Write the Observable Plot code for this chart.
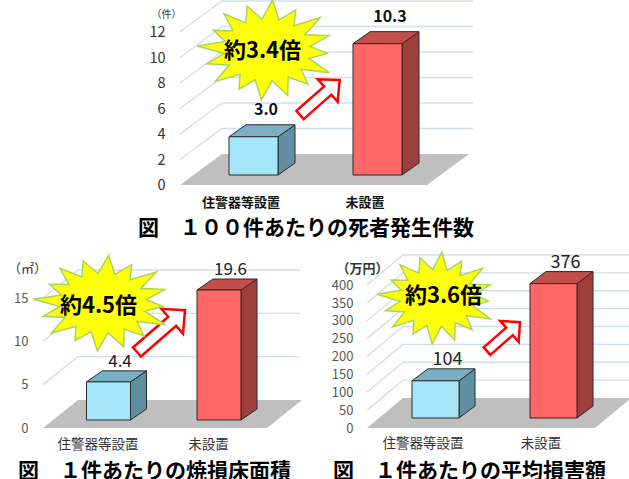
<!DOCTYPE html>
<html><head><meta charset="utf-8">
<script src="https://cdn.jsdelivr.net/npm/d3@7"></script>
<script src="https://cdn.jsdelivr.net/npm/@observablehq/plot@0.6"></script>
<style>
body{margin:0;background:#fff;}
#wrap{position:relative;width:629px;height:479px;overflow:hidden;background:#fff;font-family:"Noto Sans CJK JP",sans-serif;}
.chart{position:absolute;}
.title{position:absolute;font-size:21px;font-weight:bold;line-height:1;white-space:nowrap;color:#000;font-family:"Noto Sans CJK JP",sans-serif;}
</style></head><body><div id="wrap"></div>
<script>
// ---- data ----
const categories = ["住警器等設置", "未設置"];
const deathsPer100 = [3.0, 10.3];
const burnedAreaPerFire = [4.4, 19.6];
const damagePerFire = [104, 376];
const ticksDeaths = [0, 2, 4, 6, 8, 10, 12];
const ticksArea = [0, 5, 10, 15];
const ticksDamage = [0, 50, 100, 150, 200, 250, 300, 350, 400];
const ratioLabels = ["約3.4倍", "約4.5倍", "約3.6倍"];
const unitLabels = ["（件）", "（㎡）", "（万円）"];
const chartTitles = ["図　１００件あたりの死者発生件数", "図　１件あたりの焼損床面積", "図　１件あたりの平均損害額"];

// ---- styles ----
const barColors = [
  {front: "#A6E6FA", top: "#7BAFC3", side: "#5F8FA0"},
  {front: "#FF6666", top: "#C24F4C", side: "#A03E3E"}
];
const spikeScale = [1, 0.9, 1, 0.93, 0.86, 1, 0.9, 0.96, 1, 0.88, 0.97, 0.9, 1, 0.86, 0.95, 0.92];

const specs = [
  { values: deathsPer100, ticks: ticksDeaths, fmt: d3.format(".1f"), ratio: ratioLabels[0], unit: unitLabels[0], title: chartTitles[0],
    box: [130, 0, 360, 214], catX: [240.5, 364.5], y0: 185, yTop: 32, tickX: 165, tickSize: 14.5, tickColor: "#333",
    floor: {x0: 180, x1: 427, dx: 42, dy: -31, gridX1: 473},
    bar: {w: 49, dx: 13, dy: -10, tdx: 17, tdy: -12},
    label: {dx: 25, dy: -37.5, size: 16, weight: "bold", color: "#111"},
    cat: {dy: 17, size: 13, weight: "bold", color: "#111"},
    unitPos: [166, 10, 10, "normal"],
    star: {x: 0.214, y: 10.59, rx: 70, ry: 50, tdx: -5, tdy: 0},
    arrow: {from: [0.48, 5.49], to: [0.80, 8.24], sw: 11, hw: 30, hl: 16},
    titlePos: [138, 226] },
  { values: burnedAreaPerFire, ticks: ticksArea, fmt: d3.format(".1f"), ratio: ratioLabels[1], unit: unitLabels[1], title: chartTitles[1],
    box: [0, 245, 310, 212], catX: [97.5, 208], y0: 428, yTop: 298, tickX: 28, tickSize: 13, tickColor: "#595959",
    floor: {x0: 43, x1: 267, dx: 35, dy: -28, gridX1: 300},
    bar: {w: 44, dx: 11, dy: -8, tdx: 16, tdy: -11},
    label: {dx: 22, dy: -29, size: 17, weight: "normal", color: "#222"},
    cat: {dy: 16, size: 13.5, weight: "normal", color: "#333"},
    unitPos: [27, 263, 13, "normal"],
    star: {x: 0.05, y: 14.42, rx: 70, ry: 48, tdx: -5, tdy: 2},
    arrow: {from: [0.357, 8.77], to: [0.792, 13.6], sw: 12, hw: 33, hl: 17},
    titlePos: [18, 469] },
  { values: damagePerFire, ticks: ticksDamage, fmt: d3.format("d"), ratio: ratioLabels[2], unit: unitLabels[2], title: chartTitles[2],
    box: [310, 245, 319, 212], catX: [422.5, 540.5], y0: 428, yTop: 285, tickX: 353, tickSize: 13, tickColor: "#595959",
    floor: {x0: 367, x1: 595, dx: 36, dy: -30, gridX1: 629},
    bar: {w: 47, dx: 13, dy: -10, tdx: 16, tdy: -12},
    label: {dx: 24.5, dy: -32, size: 18, weight: "normal", color: "#222"},
    cat: {dy: 15, size: 13.5, weight: "normal", color: "#333"},
    unitPos: [362, 263, 13, "bold"],
    star: {x: 0.123, y: 363.6, rx: 60, ry: 46, tdx: 6, tdy: -3},
    arrow: {from: [0.547, 215], to: [0.826, 296], sw: 10, hw: 28, hl: 14},
    titlePos: [333, 469] }
];

const NS = "http://www.w3.org/2000/svg";
function el(tag, attrs = {}) {
  const e = document.createElementNS(NS, tag);
  for (const k in attrs) e.setAttribute(k, attrs[k]);
  return e;
}
const pts = a => a.map(p => p[0].toFixed(2) + "," + p[1].toFixed(2)).join(" ");
function poly(points, fill, stroke = "#2b2b2b", sw = 1) {
  return el("polygon", {points: pts(points), fill, stroke, "stroke-width": sw, "stroke-linejoin": "round"});
}

function sceneMark(spec) {
  return (index, scales) => {
    const x = scales.x, y = scales.y;
    const L = spec.box[0];
    const f = spec.floor, b = spec.bar;
    const yMax = spec.ticks[spec.ticks.length - 1];
    const fx0 = f.x0 - L, fx1 = f.x1 - L, gx1 = f.gridX1 - L;
    const g = el("g");
    const y0 = y(0);
    for (const t of spec.ticks) {
      if (t === 0) continue;
      const yt = y(t);
      g.append(el("polyline", {points: pts([[fx0, yt], [fx0 + f.dx, yt + f.dy], [gx1, yt + f.dy]]),
        fill: "none", stroke: "#D3DEEC", "stroke-width": 1.4}));
    }
    g.append(poly([[fx0, y0], [fx1, y0], [fx1 + f.dx, y0 + f.dy], [fx0 + f.dx, y0 + f.dy]], "#BFBFBF", "none", 0));
    spec.values.forEach((v, i) => {
      const c = barColors[i];
      const xl = x(i) + b.dx - b.w / 2, xr = xl + b.w;
      const yb = y0 + b.dy, yt = y(Math.min(v, yMax)) + b.dy;
      g.append(poly([[xr, yt], [xr + b.tdx, yt + b.tdy], [xr + b.tdx, yb + b.tdy], [xr, yb]], c.side));
      g.append(poly([[xl, yt], [xr, yt], [xr + b.tdx, yt + b.tdy], [xl + b.tdx, yt + b.tdy]], c.top));
      g.append(poly([[xl, yb], [xr, yb], [xr, yt], [xl, yt]], c.front));
    });
    return g;
  };
}

function starMark(spec) {
  return (index, scales) => {
    const s = spec.star;
    const cx = scales.x(s.x), cy = scales.y(s.y);
    const n = 16, p = [];
    for (let k = 0; k < 2 * n; k++) {
      const a = -Math.PI / 2 + k * Math.PI / n + 0.08;
      const r = k % 2 === 0 ? spikeScale[(k / 2) % spikeScale.length] : 0.62;
      p.push([cx + Math.cos(a) * s.rx * r, cy + Math.sin(a) * s.ry * r]);
    }
    return el("polygon", {points: pts(p), fill: "#FFFF0A", stroke: "#A9D65A", "stroke-width": 1.5, "stroke-linejoin": "miter"});
  };
}

function arrowMark(spec) {
  return (index, scales) => {
    const a = spec.arrow;
    const T = [scales.x(a.from[0]), scales.y(a.from[1])];
    const P = [scales.x(a.to[0]), scales.y(a.to[1])];
    const len = Math.hypot(P[0] - T[0], P[1] - T[1]);
    const u = [(P[0] - T[0]) / len, (P[1] - T[1]) / len];
    const nr = [-u[1], u[0]];
    const H = [P[0] - u[0] * a.hl, P[1] - u[1] * a.hl];
    const q = (pt, k) => [pt[0] + nr[0] * k, pt[1] + nr[1] * k];
    const p = [q(T, a.sw / 2), q(H, a.sw / 2), q(H, a.hw / 2), P, q(H, -a.hw / 2), q(H, -a.sw / 2), q(T, -a.sw / 2)];
    return el("polygon", {points: pts(p), fill: "#fff", stroke: "#FF0000", "stroke-width": 2.5, "stroke-linejoin": "miter"});
  };
}

const wrap = document.getElementById("wrap");
const FONT = "'Noto Sans CJK JP', sans-serif";

for (const spec of specs) {
  const [L, T, W, H] = spec.box;
  const n = spec.values.length;
  const idx = d3.range(n);
  const yMax = spec.ticks[spec.ticks.length - 1];
  const plot = Plot.plot({
    width: W, height: H,
    marginLeft: spec.tickX - L, marginRight: 0, marginTop: 0, marginBottom: 0,
    x: {type: "linear", domain: [0, n - 1], range: spec.catX.map(v => v - L), axis: null},
    y: {type: "linear", domain: [0, yMax], range: [spec.y0 - T, spec.yTop - T], axis: null, clamp: true},
    style: {background: "transparent", fontFamily: FONT, overflow: "visible"},
    marks: [
      sceneMark(spec),
      arrowMark(spec),
      starMark(spec),
      Plot.text(spec.ticks, {y: d => d, text: d => String(d), frameAnchor: "left", textAnchor: "end",
        fontSize: spec.tickSize, fill: spec.tickColor, fontFamily: FONT}),
      Plot.text(idx, {x: i => i, y: () => 0, text: i => categories[i], dy: spec.cat.dy,
        fontSize: spec.cat.size, fontWeight: spec.cat.weight, fill: spec.cat.color, fontFamily: FONT}),
      Plot.text(idx, {x: i => i, y: i => spec.values[i], text: i => spec.fmt(spec.values[i]),
        dx: spec.label.dx, dy: spec.label.dy, fontSize: spec.label.size, fontWeight: spec.label.weight,
        fill: spec.label.color, fontFamily: FONT}),
      Plot.text([spec.ratio], {x: () => spec.star.x, y: () => spec.star.y, text: d => d,
        dx: spec.star.tdx, dy: spec.star.tdy, fontSize: 22, fontWeight: "bold", fill: "#000", fontFamily: FONT}),
      Plot.text([spec.unit], {frameAnchor: "top-left", text: d => d, textAnchor: "middle",
        dx: spec.unitPos[0] - spec.tickX, dy: spec.unitPos[1] - T, fontSize: spec.unitPos[2],
        fontWeight: spec.unitPos[3], fill: "#333", fontFamily: FONT})
    ]
  });
  const holder = document.createElement("div");
  holder.className = "chart";
  holder.style.left = L + "px";
  holder.style.top = T + "px";
  holder.appendChild(plot);
  wrap.appendChild(holder);

  const t = document.createElement("div");
  t.className = "title";
  t.textContent = spec.title;
  t.style.left = spec.titlePos[0] + "px";
  t.style.top = (spec.titlePos[1] - 10.5) + "px";
  wrap.appendChild(t);
}
</script></body></html>
